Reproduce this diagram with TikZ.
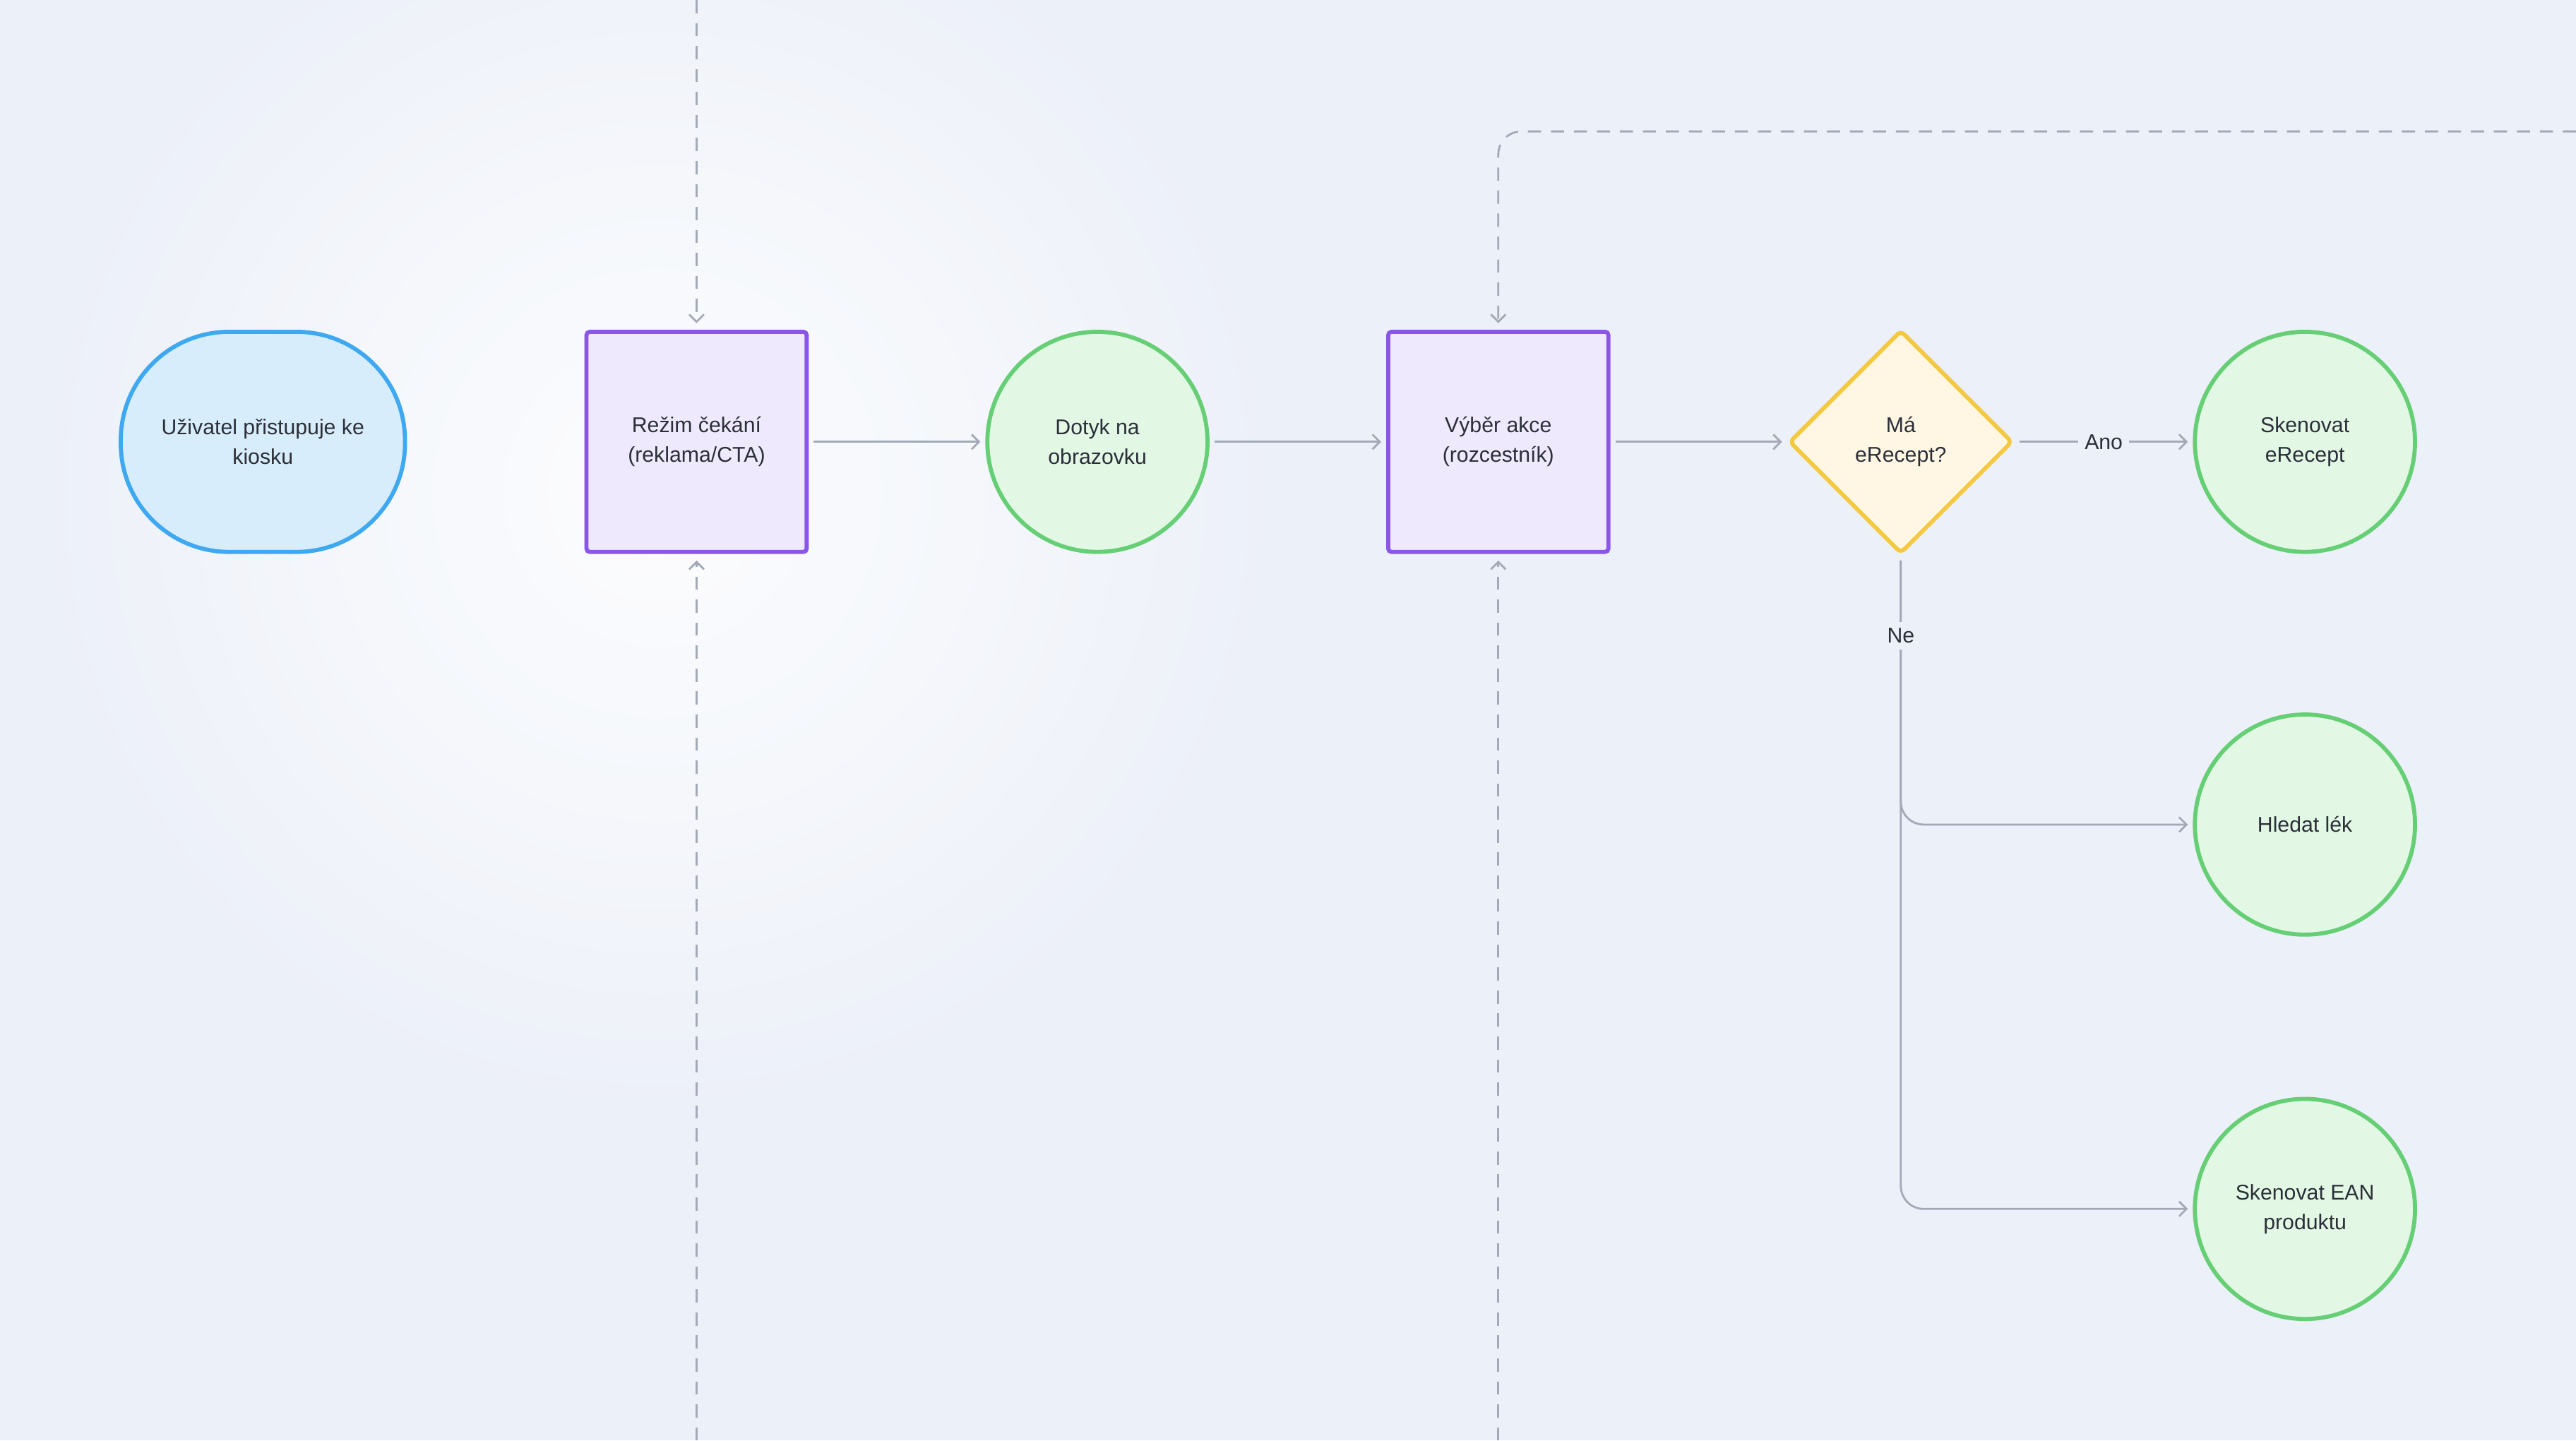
\documentclass[tikz,border=0pt]{standalone}
\usepackage{fontspec}
\setmainfont{Liberation Sans}
\usetikzlibrary{shapes.geometric,arrows.meta}
\definecolor{bgc}{HTML}{ECF0F9}
\definecolor{linec}{HTML}{A3A9B6}
\definecolor{startf}{HTML}{D8EDFC}
\definecolor{starts}{HTML}{3EA8F0}
\definecolor{procf}{HTML}{EFE9FD}
\definecolor{procs}{HTML}{8B55E8}
\definecolor{endf}{HTML}{E2F8E5}
\definecolor{ends}{HTML}{66CF75}
\definecolor{decf}{HTML}{FFF7E3}
\definecolor{decs}{HTML}{F5C842}
\definecolor{txt}{HTML}{2B2F38}
\tikzset{
  box/.style={font=\fontsize{13}{18}\selectfont, text=txt, align=center, line width=2.5pt, inner sep=2pt},
  startnode/.style={box, draw=starts, fill=startf, rounded corners=66pt, minimum width=173pt, minimum height=134pt},
  procnode/.style={box, draw=procs, fill=procf, rounded corners=2pt, minimum width=134pt, minimum height=134pt},
  endnode/.style={box, draw=ends, fill=endf, circle, minimum size=134pt},
  decnode/.style={box, draw=decs, fill=decf, diamond, minimum size=136pt, rounded corners=3pt},
  flow/.style={draw=linec, line width=1.2pt, -{Straight Barb[length=4.5pt,width=9pt]}},
  loop/.style={flow, dash pattern=on 8pt off 6pt},
  lbl/.style={font=\fontsize{13}{15}\selectfont, text=txt, fill=bgc, inner sep=4pt}
}
\begin{document}
\begin{tikzpicture}[x=1pt,y=-1pt]
	\useasboundingbox (0,0) rectangle (1568,877);
	\clip (0,0) rectangle (1568,877);
	\fill[bgc] (0,0) rectangle (1568,877);
	\shade[inner color=white, outer color=bgc, opacity=0.9] (400,300) circle (400);
	% nodes
	\node[startnode] (user) at (160,269) {Uživatel přistupuje ke\\kiosku};
	\node[procnode] (wait) at (424,269) {Režim čekání\\(reklama/CTA)};
	\node[endnode] (touch) at (668,269) {Dotyk na\\obrazovku};
	\node[procnode] (menu) at (912,269) {Výběr akce\\(rozcestník)};
	\node[decnode] (erx) at (1157,269) {};
	\node[box, text width=80pt] (erxtext) at (1157,269) {Má\\eRecept?};
	\node[endnode] (scanrx) at (1403,269) {Skenovat\\eRecept};
	\node[endnode] (search) at (1403,502) {Hledat lék};
	\node[endnode] (scanean) at (1403,736) {Skenovat EAN\\produktu};
	\coordinate (waittop) at (424,0);
	\coordinate (waitbot) at (424,877);
	\coordinate (menubot) at (912,877);
	\coordinate (menuright) at (1568,80);
	% connectors
	\draw[flow] ([xshift=3pt]wait.east) -- ([xshift=-3pt]touch.west);
	\draw[flow] ([xshift=3pt]touch.east) -- ([xshift=-3pt]menu.west);
	\draw[flow] ([xshift=3pt]menu.east) -- ([xshift=-3pt]erx.west);
	\draw[flow] ([xshift=3pt]erx.east) -- node[lbl] {Ano} ([xshift=-3pt]scanrx.west);
	\draw[flow, rounded corners=14pt] ([yshift=-3pt]erx.south) -- (1157,502) -- ([xshift=-3pt]search.west);
	\draw[flow, rounded corners=14pt] ([yshift=-3pt]erx.south) -- (1157,736) -- ([xshift=-3pt]scanean.west);
	\node[lbl] (no) at (1157,387) {Ne};
	\draw[loop] (waittop) -- ([yshift=4pt]wait.north);
	\draw[loop] (waitbot) -- ([yshift=-4pt]wait.south);
	\draw[loop] (menubot) -- ([yshift=-4pt]menu.south);
	\draw[loop, rounded corners=14pt] (menuright) -- (912,80) -- ([yshift=4pt]menu.north);
\end{tikzpicture}
\end{document}
